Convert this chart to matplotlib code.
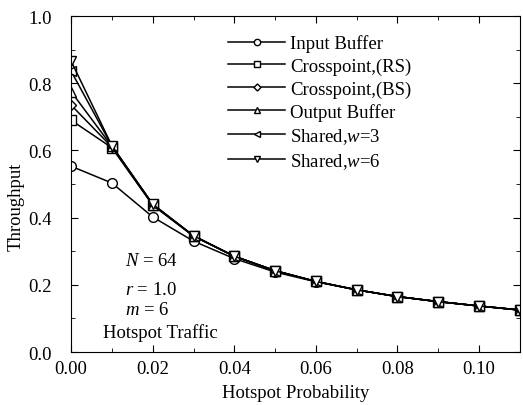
import matplotlib.pyplot as plt
from matplotlib.ticker import MultipleLocator

plt.rcParams['font.family'] = ['Liberation Serif', 'DejaVu Serif']
plt.rcParams['mathtext.fontset'] = 'custom'
plt.rcParams['mathtext.it'] = 'Liberation Serif:italic'
plt.rcParams['mathtext.rm'] = 'Liberation Serif'

# 데이터
prob = [0.00, 0.01, 0.02, 0.03, 0.04, 0.05, 0.06, 0.07, 0.08, 0.09, 0.10, 0.11]
tail = [0.285, 0.242, 0.21, 0.185, 0.165, 0.15, 0.137, 0.125]
input_buf = [0.553, 0.503, 0.402, 0.330, 0.278, 0.238, 0.209, 0.185, 0.165, 0.150, 0.137, 0.125]
cross_rs = [0.690, 0.608, 0.437, 0.345] + tail
cross_bs = [0.735, 0.610, 0.438, 0.345] + tail
output_buf = [0.775, 0.612, 0.439, 0.346] + tail
shared_w3 = [0.836, 0.613, 0.440, 0.346] + tail
shared_w6 = [0.866, 0.614, 0.440, 0.346] + tail

series = [
    (input_buf, 'o', 'Input Buffer'),
    (cross_rs, 's', 'Crosspoint,(RS)'),
    (cross_bs, 'D', 'Crosspoint,(BS)'),
    (output_buf, '^', 'Output Buffer'),
    (shared_w3, '<', 'Shared,$w$=3'),
    (shared_w6, 'v', 'Shared,$w$=6'),
]

fig, ax = plt.subplots(figsize=(5.23, 4.06), dpi=100)
fig.subplots_adjust(left=0.136, right=0.994, top=0.958, bottom=0.1305)

for vals, mk, lab in series:
    ms = 5.5 if mk == 'D' else 7
    ax.plot(prob, vals, color='black', lw=1.1, marker=mk, markersize=ms,
            markerfacecolor='white', markeredgewidth=1.0, label=lab)

ax.set_xlim(0, 0.11)
ax.set_ylim(0, 1.0)
ax.xaxis.set_major_locator(MultipleLocator(0.02))
ax.xaxis.set_minor_locator(MultipleLocator(0.01))
ax.yaxis.set_major_locator(MultipleLocator(0.2))
ax.yaxis.set_minor_locator(MultipleLocator(0.1))
ax.xaxis.set_major_formatter(plt.FuncFormatter(lambda v, p: f'{v:.2f}'))
ax.yaxis.set_major_formatter(plt.FuncFormatter(lambda v, p: f'{v:.1f}'))
ax.tick_params(which='both', direction='in', top=True, right=True, labelsize=13.5)
ax.tick_params(axis='y', which='major', pad=14)
ax.tick_params(axis='x', which='major', pad=6)
ax.tick_params(which='major', length=5)
ax.tick_params(which='minor', length=3)

ax.set_xlabel('Hotspot Probability', fontsize=13.5, labelpad=5)
ax.set_ylabel('Throughput', fontsize=13.5)
ax.yaxis.set_label_coords(-0.103, 0.435)

leg = ax.legend(loc='upper left', bbox_to_anchor=(0.313, 0.995), frameon=False,
                fontsize=13.5, handlelength=3.0, markerscale=0.65,
                labelspacing=0.28, handletextpad=0.3)

ax.text(0.0132, 0.271, '$N$ = 64', fontsize=13.5, va='center')
ax.text(0.0132, 0.1875, '$r$ = 1.0', fontsize=13.5, va='center')
ax.text(0.0132, 0.128, '$m$ = 6', fontsize=13.5, va='center')
ax.text(0.0078, 0.06, 'Hotspot Traffic', fontsize=13.5, va='center')

fig.savefig('out.png', dpi=100)
